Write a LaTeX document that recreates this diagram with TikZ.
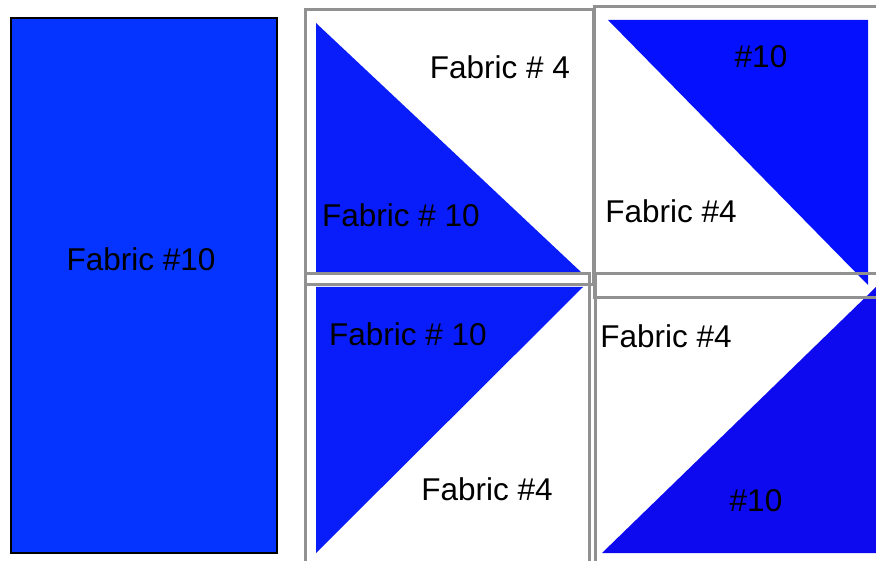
\documentclass[tikz,border=0pt]{standalone}
\usepackage{fontspec}
\setmainfont{Liberation Sans}
\usetikzlibrary{positioning}
\definecolor{stripblue}{RGB}{5,51,255}
\definecolor{patchblue}{RGB}{9,28,250}
\definecolor{deepblue}{RGB}{5,16,255}
\definecolor{violetblue}{RGB}{14,10,240}
\definecolor{framegray}{RGB}{145,145,145}

\begin{document}
\begin{tikzpicture}[x=1pt, y=-1pt, every node/.style={font=\fontsize{31.5}{37}\selectfont, inner sep=0pt}, label/.style={anchor=base}, frame/.style={draw=framegray, line width=3pt}]
\clip (0,0) rectangle (876,561);
% left strip
\node[draw, line width=2pt, fill=stripblue, minimum width=266pt, minimum height=535pt, anchor=north west] (strip) at (10,17) {};
\node[label] (striptext) at (141,271) {Fabric \#10};
% half square triangles
\fill[patchblue] (316,23) -- (316,273) -- (582,273) -- cycle;
\fill[deepblue] (608,20) -- (868,20) -- (868,285) -- cycle;
\fill[patchblue] (316,287) -- (583,287) -- (316,553) -- cycle;
\fill[violetblue] (602,553) -- (876,553) -- (876,287) -- cycle;
% frames
\draw[frame] (305,10) rectangle (593,285);
\draw[frame] (594,7) rectangle (890,298);
\draw[frame] (305,274) rectangle (589,580);
\draw[frame] (595,274) rectangle (890,580);
% labels
\node[label] (tlwhite) at (500,79) {Fabric \# 4};
\node[label] (tlblue) at (401,227) {Fabric \# 10};
\node[label] (trblue) at (761,68) {\#10};
\node[label] (trwhite) at (671,223) {Fabric \#4};
\node[label] (blblue) at (408,346) {Fabric \# 10};
\node[label] (blwhite) at (487,500) {Fabric \#4};
\node[label] (brwhite) at (666,348) {Fabric \#4};
\node[label] (brblue) at (756,511) {\#10};
\end{tikzpicture}
\end{document}
